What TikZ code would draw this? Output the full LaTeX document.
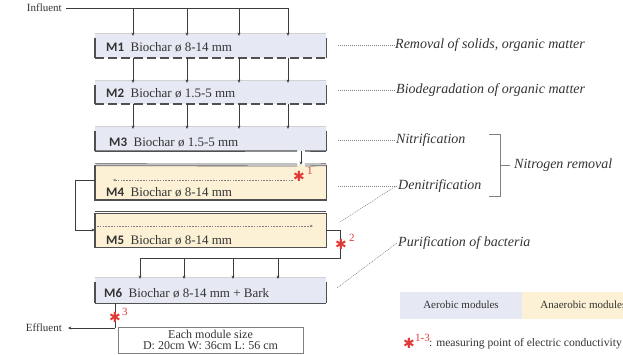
\documentclass[tikz,border=0pt]{standalone}
\usepackage{fontspec}
\setmainfont{Liberation Serif}
\newfontfamily\modfont{Carlito}
\newfontfamily\symfont{DejaVu Sans}
\usetikzlibrary{arrows.meta}

\definecolor{aerofill}{HTML}{E6E9F3}
\definecolor{anaefill}{HTML}{FDF1D5}
\definecolor{wallgray}{HTML}{505050}
\definecolor{pipegray}{HTML}{3C3C3C}
\definecolor{ink}{HTML}{333333}
\definecolor{probered}{HTML}{E03A36}

\tikzset{
  pipe/.style={draw=pipegray, line width=0.7pt},
  feed/.style={pipe, -{Stealth[length=3.2pt,width=3pt]}},
  wall/.style={draw=wallgray, line width=1.4pt},
  dashwall/.style={wall, dash pattern=on 9pt off 4pt},
  topwall/.style={draw=wallgray, double=white, double distance=1.1pt, line width=0.8pt},
  leader/.style={draw=gray, line width=0.55pt, dash pattern=on 1pt off 1pt},
  flowline/.style={draw=gray, line width=0.5pt, dash pattern=on 1.6pt off 1.2pt,
                   -{Stealth[length=3pt,width=2.6pt]}},
  bed/.style={inner sep=0pt, minimum width=231pt, anchor=center},
  modtext/.style={anchor=west, text=ink, inner sep=0pt,
                  font=\fontsize{13}{15}\selectfont},
  role/.style={anchor=west, text=ink, inner sep=0pt,
               font=\fontsize{14}{16}\selectfont\itshape},
  small/.style={text=ink, inner sep=0pt, font=\fontsize{11}{13}\selectfont},
  probe/.style={text=probered, inner sep=0pt, font=\symfont\fontsize{14}{14}\selectfont},
  probenum/.style={text=probered, inner sep=0pt, anchor=west,
                   font=\fontsize{11}{11}\selectfont},
}
\newcommand{\mlabel}[1]{{\modfont\bfseries #1}\enspace}

\begin{document}
\begin{tikzpicture}[x=1pt,y=-1pt]
\useasboundingbox (0,0) rectangle (623,355);

% ---- module beds ----
\node[bed, fill=aerofill, minimum height=25pt] (M1) at (210.5,45.5) {};
\node[bed, fill=aerofill, minimum height=24pt] (M2) at (210.5,92) {};
\node[bed, fill=aerofill, minimum height=25pt] (M3) at (210.5,138.5) {};
\node[bed, fill=anaefill, minimum height=35pt] (M4) at (210.5,182.5) {};
\node[bed, fill=anaefill, minimum height=34pt] (M5) at (210.5,230) {};
\node[bed, fill=aerofill, minimum height=26pt] (M6) at (210.5,290) {};

% open-top aerobic modules: side walls and bottoms
\foreach \m in {M1,M2,M3,M6}{
  \draw[gray!35, line width=0.4pt] (\m.north west) -- (\m.north east);
  \draw[wall] ([yshift=-5pt]\m.north west) -- (\m.south west);
  \draw[wall] ([yshift=-5pt]\m.north east) -- (\m.south east);
}
\draw[dashwall] (M1.south west) -- (M1.south east);
\draw[dashwall] (M2.south west) -- (M2.south east);
\coordinate (gap3a) at (297,151);
\coordinate (gap3b) at (305,151);
\draw[wall] (M3.south west) -- (gap3a);
\draw[wall] (gap3b) -- (M3.south east);
\draw[wall] (M6.south west) -- (M6.south east);

% closed anaerobic modules
\coordinate (gap4a) at (297,165);
\coordinate (gap4b) at (305,165);
\draw[topwall] (M4.north west) -- (gap4a);
\draw[topwall] (gap4b) -- (M4.north east);
\draw[wall] (M4.north west) -- (M4.south west) -- (M4.south east) -- (M4.north east);
\draw[topwall] (M5.north west) -- (M5.north east);
\draw[wall] (M5.north west) -- (M5.south west) -- (M5.south east) -- (M5.north east);

% ---- module labels ----
\node[modtext] (t1) at (106,47) {\mlabel{M1}Biochar ø 8-14 mm};
\node[modtext] (t2) at (106,93) {\mlabel{M2}Biochar ø 1.5-5 mm};
\node[modtext] (t3) at (109,142) {\mlabel{M3}Biochar ø 1.5-5 mm};
\node[modtext] (t4) at (106,192) {\mlabel{M4}Biochar ø 8-14 mm};
\node[modtext] (t5) at (106,240) {\mlabel{M5}Biochar ø 8-14 mm};
\node[modtext] (t6) at (104,293) {\mlabel{M6}Biochar ø 8-14 mm + Bark};

% ---- influent and distribution ----
\node[small, anchor=east] (inf) at (62,8) {Influent};
\coordinate (infend) at (288,8);
\draw[pipe] (inf.east) ++(4,0) -- (infend);
\foreach \x in {133,187,239,288}{
  \draw[feed] (\x,8) -- ([yshift=-3pt]\x,0 |- M1.north);
  \draw[feed] (\x,0 |- M1.south) -- ([yshift=-3pt]\x,0 |- M2.north);
  \draw[feed] (\x,0 |- M2.south) -- ([yshift=-3pt]\x,0 |- M3.north);
}

% M3 -> M4
\coordinate (drop3) at (301,151);
\draw[feed] (drop3) -- (drop3 |- M4.north);

% flow through M4, over to M5
\coordinate (f4a) at (293,180);
\coordinate (f4b) at (113,180);
\draw[flowline] (f4a) -- (f4b);
\coordinate (loopL) at (75,180);
\draw[pipe] (M4.west |- f4a) -- (loopL) -- (loopL |- M5.center);
\draw[feed] (loopL |- M5.center) -- (M5.west);
\coordinate (f5a) at (97,226);
\coordinate (f5b) at (313,226);
\draw[flowline] (f5a) -- (f5b);

% M5 outlet to distribution above M6
\coordinate (out5) at (340,230);
\coordinate (hdr6) at (140,258);
\draw[pipe] (M5.east |- out5) -- (out5) -- (out5 |- hdr6) -- (hdr6);
\foreach \x in {140,184,233,278}{
  \draw[feed] (\x,258) -- ([yshift=-2pt]\x,0 |- M6.north);
}

% effluent
\coordinate (out6) at (115,303);
\coordinate (elbow6) at (115,328);
\node[small, anchor=east] (eff) at (62,328) {Effluent};
\draw[pipe] (out6) -- (elbow6);
\draw[feed] (elbow6) -- ([xshift=6pt]eff.east);

% ---- measuring points ----
\node[probe] (p1) at (299,176) {✱};
\node[probenum] (n1) at (307,171) {1};
\node[probe] (p2) at (341,244) {✱};
\node[probenum] (n2) at (349,238) {2};
\node[probe] (p3) at (115,317) {✱};
\node[probenum] (n3) at (122,312) {3};

% ---- module size note ----
\node[draw=gray, line width=0.5pt, minimum width=185pt, minimum height=26pt,
      inner sep=0pt, align=center, text=ink, font=\fontsize{12}{11}\selectfont]
      (size) at (210.5,340) {Each module size\\D: 20cm W: 36cm L: 56 cm};

% ---- process roles ----
\node[role] (r1) at (395,45) {Removal of solids, organic matter};
\node[role] (r2) at (396,90) {Biodegradation of organic matter};
\node[role] (r3) at (396,140) {Nitrification};
\node[role] (r4) at (398,186) {Denitrification};
\node[role] (r5) at (398,243) {Purification of bacteria};
\draw[leader] (338,45) -- (r1.west);
\draw[leader] (338,90) -- (r2.west);
\draw[leader] (338,140) -- (r3.west);
\draw[leader] (338,186) -- (r4.west);
\draw[leader] (340,222) -- ([xshift=-2pt]r4.west);
\draw[leader] (337,288) -- ([xshift=-1pt]r5.west);

% nitrogen removal bracket
\coordinate (brT) at (500,134);
\coordinate (brB) at (500,196);
\node[role] (nr) at (514,165) {Nitrogen removal};
\draw[draw=gray, line width=0.6pt] (489,134) -- (brT) -- (brB) -- (489,196);
\draw[draw=gray, line width=0.6pt] (500,165) -- ([xshift=-4pt]nr.west);

% ---- legend ----
\node[fill=aerofill, minimum width=122pt, minimum height=27pt, inner sep=0pt,
      small] (aer) at (461,305) {Aerobic modules};
\node[fill=anaefill, minimum width=122pt, minimum height=27pt, inner sep=0pt,
      anchor=west, small] (ana) at (aer.east) {Anaerobic modules};
\node[probe] (pl) at (409,343) {✱};
\node[probenum] (nl) at (415,338) {1-3};
\node[small, anchor=west, font=\fontsize{11.6}{13}\selectfont]
      (legtext) at (429,344) {: measuring point of electric conductivity};
\end{tikzpicture}
\end{document}
